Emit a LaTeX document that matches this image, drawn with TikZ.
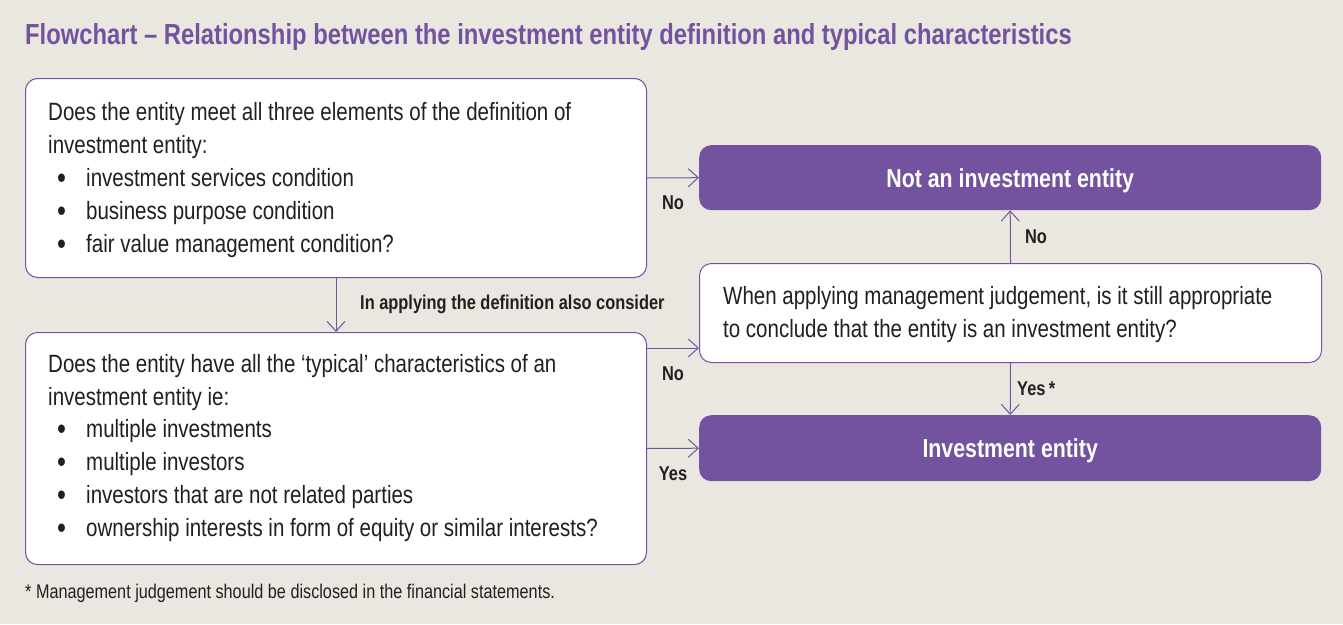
\documentclass[tikz,border=0pt]{standalone}
\usepackage{fontspec}
\setmainfont{Liberation Sans}[FakeStretch=0.82]
\usetikzlibrary{arrows.meta,calc}
\definecolor{bg}{HTML}{EAE7E1}
\definecolor{pur}{HTML}{7352A0}
\definecolor{ink}{HTML}{231F20}
\begin{document}
\begin{tikzpicture}[x=1pt,y=-1pt,
  box/.style={draw=pur,line width=1pt,fill=white,rounded corners=12pt,minimum width=621pt,anchor=north west,inner sep=0pt},
  pbox/.style={fill=pur,rounded corners=12pt,minimum width=622pt,anchor=north west,inner sep=0pt},
  txt/.style={anchor=base west,inner sep=0pt,text=ink,font=\fontsize{25}{30}\selectfont},
  bul/.style={anchor=base west,inner sep=0pt,text=ink,font=\fontsize{31}{30}\selectfont},
  lbl/.style={inner sep=0pt,text=ink,font=\fontsize{20}{24}\selectfont\bfseries},
  wlbl/.style={inner sep=0pt,text=white,font=\fontsize{26}{30}\selectfont\bfseries},
  arr/.style={draw=pur,line width=1pt,-{Straight Barb[length=10pt,width=18pt,line width=1pt]}}]
\fill[bg] (0,0) rectangle (1343,624);
\useasboundingbox (0,0) rectangle (1343,624);
\node[anchor=base west,inner sep=0pt,text=pur,font=\fontsize{29}{34}\selectfont\bfseries] (title) at (25,44) {Flowchart – Relationship between the investment entity definition and typical characteristics};
% boxes
\node[box,minimum height=199pt] (q1) at (25,78) {};
\node[box,minimum height=232pt] (q2) at (25,332) {};
\node[box,minimum height=99pt,minimum width=622pt] (j) at (699,263) {};
\node[pbox,minimum height=65pt] (ne) at (699,145) {};
\node[pbox,minimum height=66pt] (ie) at (699,415) {};
\node[wlbl] (netext) at ($(ne.center)+(0,3)$) {Not an investment entity};
\node[wlbl] (ietext) at ($(ie.center)+(0,3)$) {Investment entity};
% box 1 text
\node[txt] (a1) at (48,120) {Does the entity meet all three elements of the definition of};
\node[txt] (a2) at (48,153) {investment entity:};
\node[bul] (a3) at (57,188) {•};
\node[txt] (a3t) at (86,186) {investment services condition};
\node[bul] (a4) at (57,221) {•};
\node[txt] (a4t) at (86,219) {business purpose condition};
\node[bul] (a5) at (57,254) {•};
\node[txt] (a5t) at (86,252) {fair value management condition?};
% box 2 text
\node[txt] (b1) at (48,372) {Does the entity have all the ‘typical’ characteristics of an};
\node[txt] (b2) at (48,405) {investment entity ie:};
\node[bul] (b3) at (57,439) {•};
\node[txt] (b3t) at (86,437) {multiple investments};
\node[bul] (b4) at (57,472) {•};
\node[txt] (b4t) at (86,470) {multiple investors};
\node[bul] (b5) at (57,505) {•};
\node[txt] (b5t) at (86,503) {investors that are not related parties};
\node[bul] (b6) at (57,538) {•};
\node[txt] (b6t) at (86,536) {ownership interests in form of equity or similar interests?};
% box 4 text
\node[txt] (c1) at (723,304) {When applying management judgement, is it still appropriate};
\node[txt] (c2) at (723,337) {to conclude that the entity is an investment entity?};
% connectors
\coordinate (n2) at ($(q2.north east)+(0,16)$);
\draw[arr] (q1.east) -- (ne.west);
\draw[arr] (q1.south) -- (q2.north);
\draw[arr] (n2) -- (n2 -| j.west);
\draw[arr] (q2.east) -- (ie.west);
\draw[arr] (j.north) -- (ne.south);
\draw[arr] (j.south) -- (ie.north);
% labels
\node[lbl] (l1) at (673,203) {No};
\node[lbl,anchor=west] (l2) at (360,304) {In applying the definition also consider};
\node[lbl] (l3) at (673,374) {No};
\node[lbl] (l4) at (673,474) {Yes};
\node[lbl] (l5) at (1036,237) {No};
\node[lbl,anchor=west] (l6) at (1017,389) {Yes\,*};
% footnote
\node[anchor=base west,inner sep=0pt,text=ink,font=\fontsize{19.8}{24}\selectfont] (fn) at (25,598) {* Management judgement should be disclosed in the financial statements.};
\end{tikzpicture}
\end{document}
